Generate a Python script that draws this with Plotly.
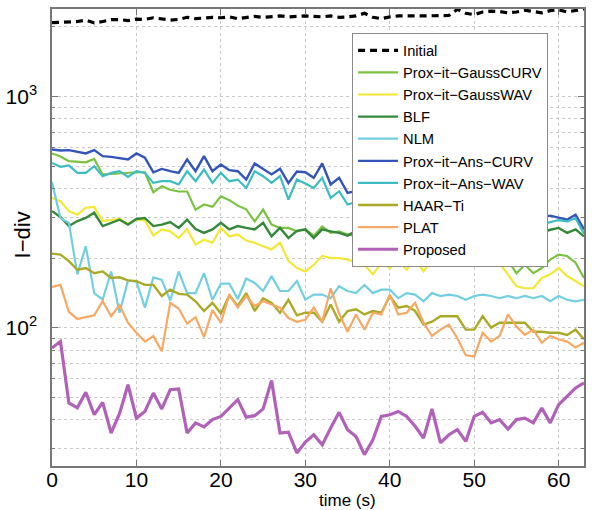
import plotly.graph_objects as go

t = list(range(64))

names = ["Initial", "Prox−it−GaussCURV", "Prox−it−GaussWAV", "BLF", "NLM",
         "Prox−it−Ans−CURV", "Prox−it−Ans−WAV", "HAAR−Ti", "PLAT", "Proposed"]

initial = [2085, 2090, 2100, 2110, 2140, 2080, 2110, 2150, 2150, 2130,
           2160, 2155, 2190, 2160, 2140, 2155, 2200, 2170, 2180, 2200,
           2190, 2210, 2170, 2190, 2220, 2200, 2215, 2230, 2210, 2220,
           2230, 2220, 2210, 2230, 2200, 2210, 2230, 2290, 2200, 2170,
           2210, 2230, 2225, 2235, 2230, 2235, 2230, 2240, 2380, 2290,
           2260, 2320, 2340, 2330, 2300, 2320, 2360, 2330, 2300, 2350,
           2370, 2320, 2350, 2390]

gauss_curv = [567, 550, 525, 522, 519, 537, 460, 462, 465, 468, 470, 470, 385, 409, 395, 388,
              388, 324, 341, 333, 370, 356, 337, 325, 288,
              324, 279, 270, 270, 261, 266, 250, 274, 257, 261, 253,
              250, 245, 255, 240, 238, 245, 235, 230, 236, 228, 225, 232, 220, 218, 222, 212, 208, 200,
              195, 172, 187, 172, 181, 197, 207, 204, 191, 164]

gauss_wav = [364, 352, 319, 308, 330, 333, 289, 293, 295, 281, 293, 291, 250, 266, 261, 244,
             267, 229, 240, 233, 270, 248, 253,
             238, 233, 225, 218, 233, 194, 181, 175, 187, 204, 200, 200, 197, 191, 187, 170,
             191, 181, 194, 178, 197, 175, 197, 187,
             200, 208, 196, 212, 202, 206,
             190, 170, 151, 148, 148, 164, 170, 181, 167, 159, 151]

blf = [319, 301, 275, 289, 298, 314, 275, 284, 293, 279, 295, 298, 275, 279, 286, 270, 293,
       267, 257, 266, 284, 266, 275, 270, 266,
       284, 248, 270, 244, 262, 266, 244, 266, 261, 257, 250,
       262, 255, 265, 250, 258, 262, 250, 255, 248, 260, 252, 245, 255, 248, 250, 258, 245,
       252, 260, 250, 255, 262, 258, 265,
       270, 257, 266, 248]

nlm = [425, 298, 284, 170, 225, 141, 132, 175, 116, 160, 158, 122, 165, 161, 131, 175, 141,
       141, 172, 132, 155, 155, 133, 163, 156, 144, 167, 144, 144, 159,
       132, 139, 139, 134, 151, 144, 141, 153, 141, 146, 146, 134, 141, 139, 130, 141, 137,
       139, 137, 132, 137, 139, 137, 134, 137, 134, 137, 134, 137, 130, 137, 132, 130, 132]

ans_curv = [590, 584, 586, 578, 567, 586, 552, 548, 543, 534, 567, 543, 470, 486, 475, 467,
            534, 475, 552, 475, 508, 480, 475,
            437, 513, 485, 460, 487, 422, 473,
            470, 445, 513, 416, 445, 383,
            390, 372, 380, 365, 370, 355, 360, 348, 352, 340, 345, 335, 330, 338, 325, 320,
            328, 315, 318, 310, 305, 312, 300, 305,
            298, 293, 308, 266]

ans_wav = [516, 496, 503, 467, 467, 499, 452, 467, 475, 449, 475, 467, 423, 430, 430, 416, 475,
           430, 483, 423, 467, 430, 437, 402, 475, 452, 423, 452, 358, 437,
           420, 402, 445, 364, 389, 341,
           350, 340, 345, 332, 336, 325, 330, 318, 322, 312, 316, 305, 302, 309, 298, 294,
           300, 289, 292, 285, 282, 288, 280, 286,
           292, 288, 297, 255]

haar = [209, 207, 194, 178, 181, 172, 175, 164, 165, 160, 159, 153, 153, 137, 146, 140, 139,
        130, 118, 128, 115, 138, 124, 141, 118, 134, 128, 116, 132, 113,
        116, 116, 106, 126, 106, 118, 120, 114, 118, 116, 137, 122, 124, 118, 103, 106, 112,
        112, 112, 98, 98, 112, 100, 105, 105, 105, 105, 96, 96, 95, 95, 93, 98, 89]

plat = [150, 153, 117, 109, 111, 113, 130, 112, 125, 105, 95, 87, 92, 79, 128, 121, 104, 111,
        91, 119, 105, 139, 122, 137,
        124, 130, 126, 122, 110, 106,
        108, 122, 106, 148, 115, 96, 114, 98, 116, 114, 139, 114, 116, 128, 105, 92, 98, 103,
        90, 76, 75, 95, 87, 92, 114, 101, 93, 98, 86, 92, 89, 87, 82, 86]

proposed = [81.7, 87.2, 47.2, 45, 52.5, 42, 47.5, 35, 42.5, 56.6, 40.6, 43.4, 52.1, 44.5, 53.9,
            54.3, 35, 38.7, 37.2, 40, 41.3, 45, 48.8, 41, 41.6, 44.5, 59.1, 35, 35.3, 28.7,
            32, 34.4, 31.1, 36.8, 43, 36.2, 33.8, 28.2, 32.7, 41.3, 42, 43.4, 41.3, 37.4, 33.3,
            44.5, 31.7, 34.4, 36.2, 32.2, 41.3, 43, 38.7, 40, 36.4, 40, 40.6, 38.7, 44.9, 38.7,
            46.4, 50.4, 54.8, 57.6]

series = [initial, gauss_curv, gauss_wav, blf, nlm, ans_curv, ans_wav, haar, plat, proposed]
colors = ["#000000", "#7cc242", "#f2e836", "#35883a", "#72cfe2",
          "#3354b8", "#3dbcc2", "#aaaa28", "#f6a865", "#b062b8"]
widths = [3.2, 2.2, 2.2, 2.4, 2.2, 2.4, 2.2, 2.4, 2.2, 3.2]

fig = go.Figure()
for name, vals, col, w in zip(names, series, colors, widths):
    line = dict(color=col, width=w)
    if name == "Initial":
        line["dash"] = "7px,5px"
    fig.add_trace(go.Scatter(x=t, y=vals, mode="lines", name=name, line=line))

font = "Liberation Sans, Arial, Helvetica, sans-serif"
grid = "#c9c9c9"

fig.update_layout(
    width=592, height=510,
    margin=dict(l=49, r=6, t=9, b=44),
    paper_bgcolor="white", plot_bgcolor="white",
    font=dict(family=font, color="black"),
    showlegend=True,
    legend=dict(x=0.564, y=0.947, xanchor="left", yanchor="top",
                bgcolor="white", bordercolor="#8a8a8a", borderwidth=1,
                font=dict(size=14.7, family=font), itemwidth=40,
                tracegroupgap=0),
    annotations=[
        dict(text="I−div", x=-0.056, y=0.505, xref="paper", yref="paper",
             xanchor="center", yanchor="middle",
             textangle=-90, showarrow=False, font=dict(size=22, family=font)),
        dict(text="time (s)", x=0.555, y=-0.075, xref="paper", yref="paper",
             xanchor="center", yanchor="middle",
             showarrow=False, font=dict(size=17, family=font)),
    ],
)

fig.update_xaxes(range=[0, 63], tickvals=[0, 10, 20, 30, 40, 50, 60],
                 ticks="inside", ticklen=6, tickcolor="#777", mirror="ticks",
                 showline=True, linecolor="#777", linewidth=1.5,
                 showgrid=True, gridcolor=grid, griddash="dot", gridwidth=1,
                 zeroline=False, tickfont=dict(size=21, family=font),
                 ticklabelstandoff=-6)

fig.update_yaxes(type="log", range=[1.4013, 3.3784],
                 tickvals=[100, 1000], ticktext=["10<sup>2</sup>", "10<sup>3</sup>"],
                 ticks="inside", ticklen=6, tickcolor="#777", mirror="ticks",
                 showline=True, linecolor="#777", linewidth=1.5,
                 showgrid=True, gridcolor=grid, griddash="dot", gridwidth=1,
                 zeroline=False, tickfont=dict(size=21, family=font),
                 ticklabelstandoff=9,
                 minor=dict(tickvals=[30, 40, 50, 60, 70, 80, 90, 200, 300, 400, 500,
                                      600, 700, 800, 900, 2000],
                            ticks="inside", ticklen=3, tickcolor="#777",
                            showgrid=True, gridcolor=grid, griddash="dot", gridwidth=1))

fig.write_html("out.html")
